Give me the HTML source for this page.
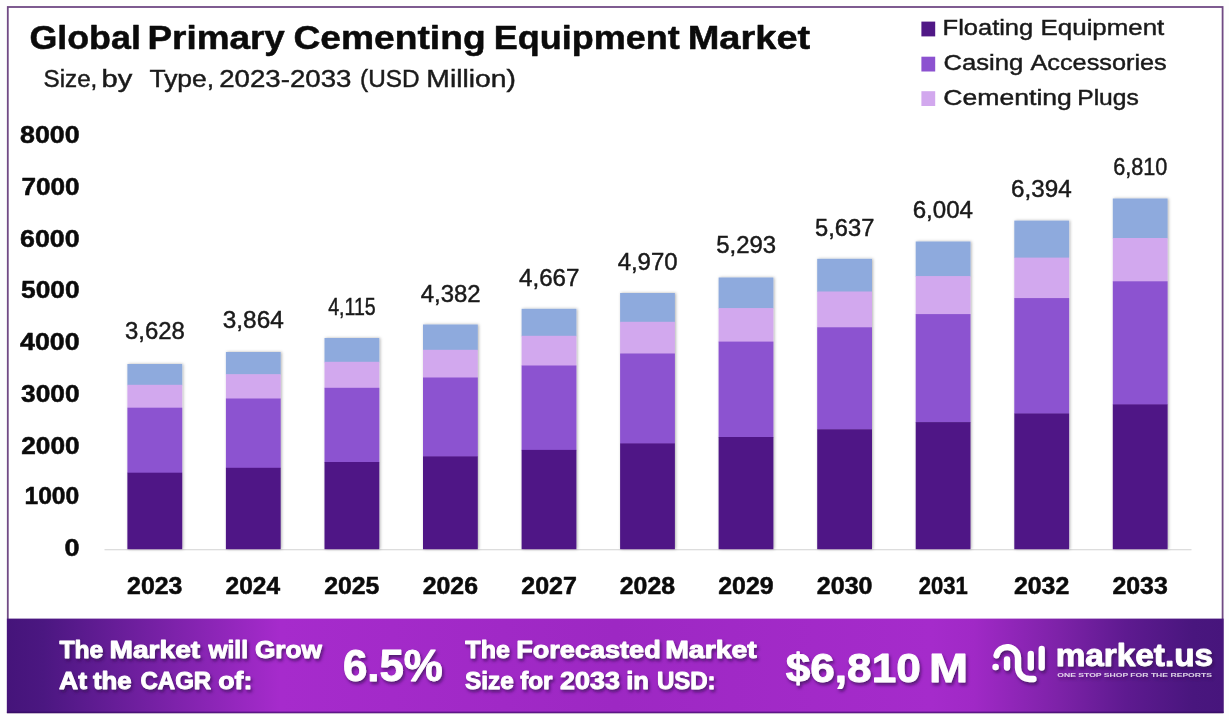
<!DOCTYPE html>
<html lang="en"><head><meta charset="utf-8"><title>Global Primary Cementing Equipment Market</title>
<style>
html,body{margin:0;padding:0;background:#fdfefd;overflow:hidden}
svg{display:block}
text{font-family:"Liberation Sans",sans-serif}
.b{font-weight:bold}
.k{stroke:#0b0b0b;stroke-width:0.5px;stroke-linejoin:round}
.r{stroke:#1a1a1a;stroke-width:0.45px}
</style></head><body>
<svg width="1229" height="720" viewBox="0 0 1229 720">
<defs>
<linearGradient id="bg" x1="0" y1="0" x2="1" y2="0">
<stop offset="0" stop-color="#45147a"/>
<stop offset="0.03" stop-color="#4b1781"/>
<stop offset="0.225" stop-color="#a62bcc"/>
<stop offset="0.50" stop-color="#9d28c3"/>
<stop offset="0.76" stop-color="#a52bcb"/>
<stop offset="0.795" stop-color="#a029c6"/>
<stop offset="0.865" stop-color="#7d22a8"/>
<stop offset="0.92" stop-color="#5e1a90"/>
<stop offset="0.975" stop-color="#49167e"/>
<stop offset="1" stop-color="#47157c"/>
</linearGradient>
<filter id="sh" x="-10%" y="-10%" width="120%" height="130%"><feDropShadow dx="1.5" dy="2.5" stdDeviation="1.6" flood-color="#30084f" flood-opacity="0.7"/></filter>
<filter id="bs" x="-10%" y="-5%" width="125%" height="110%"><feDropShadow dx="1" dy="0" stdDeviation="1.7" flood-color="#000" flood-opacity="0.3"/></filter>
</defs>
<rect x="7.8" y="7" width="1214.8" height="705.5" fill="#ffffff" stroke="#704b84" stroke-width="1.8"/>

<text class="b k" font-size="33" fill="#0b0b0b" y="48.8"><tspan x="29.43" textLength="111.44" lengthAdjust="spacingAndGlyphs">Global</tspan> <tspan x="147.44" textLength="137.47" lengthAdjust="spacingAndGlyphs">Primary</tspan> <tspan x="293.49" textLength="192.14" lengthAdjust="spacingAndGlyphs">Cementing</tspan> <tspan x="493.70" textLength="186.03" lengthAdjust="spacingAndGlyphs">Equipment</tspan> <tspan x="687.67" textLength="122.56" lengthAdjust="spacingAndGlyphs">Market</tspan></text>
<text class="r" font-size="24.2" fill="#1a1a1a" y="87.3"><tspan x="43.59" textLength="53.76" lengthAdjust="spacingAndGlyphs">Size,</tspan> <tspan x="101.63" textLength="30.72" lengthAdjust="spacingAndGlyphs">by</tspan> <tspan x="149.44" textLength="64.69" lengthAdjust="spacingAndGlyphs">Type,</tspan> <tspan x="219.26" textLength="132.11" lengthAdjust="spacingAndGlyphs">2023-2033</tspan> <tspan x="360.11" textLength="59.48" lengthAdjust="spacingAndGlyphs">(USD</tspan> <tspan x="426.34" textLength="89.57" lengthAdjust="spacingAndGlyphs">Million)</tspan></text>
<rect x="921.4" y="21.6" width="13.8" height="14.8" fill="#501886"/>
<text class="r" font-size="22.4" fill="#1a1a1a" y="35.3"><tspan x="942.63" textLength="90.58" lengthAdjust="spacingAndGlyphs">Floating</tspan> <tspan x="1040.60" textLength="123.69" lengthAdjust="spacingAndGlyphs">Equipment</tspan></text>
<rect x="921.4" y="56.7" width="13.8" height="14.8" fill="#8c52d0"/>
<text class="r" font-size="22.4" fill="#1a1a1a" y="70.1"><tspan x="943.42" textLength="79.80" lengthAdjust="spacingAndGlyphs">Casing</tspan> <tspan x="1030.42" textLength="136.35" lengthAdjust="spacingAndGlyphs">Accessories</tspan></text>
<rect x="921.4" y="91.2" width="13.8" height="14.8" fill="#d2a8ee"/>
<text class="r" font-size="22.4" fill="#1a1a1a" y="104.7"><tspan x="943.37" textLength="128.50" lengthAdjust="spacingAndGlyphs">Cementing</tspan> <tspan x="1077.19" textLength="61.66" lengthAdjust="spacingAndGlyphs">Plugs</tspan></text>
<text class="b k" font-size="23.8" fill="#0b0b0b" y="556.2"><tspan x="64.60" textLength="15.04" lengthAdjust="spacingAndGlyphs">0</tspan></text>
<text class="b k" font-size="23.8" fill="#0b0b0b" y="504.4"><tspan x="24.41" textLength="54.94" lengthAdjust="spacingAndGlyphs">1000</tspan></text>
<text class="b k" font-size="23.8" fill="#0b0b0b" y="454.2"><tspan x="21.23" textLength="58.38" lengthAdjust="spacingAndGlyphs">2000</tspan></text>
<text class="b k" font-size="23.8" fill="#0b0b0b" y="402.0"><tspan x="21.14" textLength="58.48" lengthAdjust="spacingAndGlyphs">3000</tspan></text>
<text class="b k" font-size="23.8" fill="#0b0b0b" y="350.4"><tspan x="20.05" textLength="59.59" lengthAdjust="spacingAndGlyphs">4000</tspan></text>
<text class="b k" font-size="23.8" fill="#0b0b0b" y="298.3"><tspan x="21.14" textLength="58.48" lengthAdjust="spacingAndGlyphs">5000</tspan></text>
<text class="b k" font-size="23.8" fill="#0b0b0b" y="246.6"><tspan x="20.01" textLength="59.62" lengthAdjust="spacingAndGlyphs">6000</tspan></text>
<text class="b k" font-size="23.8" fill="#0b0b0b" y="194.6"><tspan x="21.43" textLength="58.18" lengthAdjust="spacingAndGlyphs">7000</tspan></text>
<text class="b k" font-size="23.8" fill="#0b0b0b" y="142.9"><tspan x="20.01" textLength="59.62" lengthAdjust="spacingAndGlyphs">8000</tspan></text>
<rect x="104.5" y="549.1" width="1087" height="1.2" fill="#dadada"/>
<g filter="url(#bs)">
<rect x="127.4" y="364.0" width="54.8" height="21.3" fill="#8eaadd"/>
<rect x="127.4" y="384.8" width="54.8" height="23.4" fill="#d2a8ee"/>
<rect x="127.4" y="407.7" width="54.8" height="65.5" fill="#8c52d0"/>
<rect x="127.4" y="472.7" width="54.8" height="76.5" fill="#501886"/>
</g>
<text class="r" font-size="23" fill="#1a1a1a" y="339.3"><tspan x="124.97" textLength="59.88" lengthAdjust="spacingAndGlyphs">3,628</tspan></text>
<text class="b k" font-size="23.3" fill="#0b0b0b" y="594.0"><tspan x="127.07" textLength="55.30" lengthAdjust="spacingAndGlyphs">2023</tspan></text>
<g filter="url(#bs)">
<rect x="225.9" y="352.0" width="54.8" height="22.7" fill="#8eaadd"/>
<rect x="225.9" y="374.2" width="54.8" height="24.9" fill="#d2a8ee"/>
<rect x="225.9" y="398.5" width="54.8" height="69.7" fill="#8c52d0"/>
<rect x="225.9" y="467.8" width="54.8" height="81.4" fill="#501886"/>
</g>
<text class="r" font-size="23" fill="#1a1a1a" y="327.9"><tspan x="222.80" textLength="60.93" lengthAdjust="spacingAndGlyphs">3,864</tspan></text>
<text class="b k" font-size="23.3" fill="#0b0b0b" y="594.0"><tspan x="225.62" textLength="54.51" lengthAdjust="spacingAndGlyphs">2024</tspan></text>
<g filter="url(#bs)">
<rect x="324.5" y="338.0" width="54.8" height="24.3" fill="#8eaadd"/>
<rect x="324.5" y="361.8" width="54.8" height="26.6" fill="#d2a8ee"/>
<rect x="324.5" y="387.8" width="54.8" height="74.6" fill="#8c52d0"/>
<rect x="324.5" y="462.0" width="54.8" height="87.2" fill="#501886"/>
</g>
<text class="r" font-size="23" fill="#1a1a1a" y="315.3"><tspan x="328.21" textLength="47.56" lengthAdjust="spacingAndGlyphs">4,115</tspan></text>
<text class="b k" font-size="23.3" fill="#0b0b0b" y="594.0"><tspan x="324.15" textLength="55.30" lengthAdjust="spacingAndGlyphs">2025</tspan></text>
<g filter="url(#bs)">
<rect x="423.0" y="324.5" width="54.8" height="25.8" fill="#8eaadd"/>
<rect x="423.0" y="349.8" width="54.8" height="28.3" fill="#d2a8ee"/>
<rect x="423.0" y="377.5" width="54.8" height="79.4" fill="#8c52d0"/>
<rect x="423.0" y="456.4" width="54.8" height="92.8" fill="#501886"/>
</g>
<text class="r" font-size="23" fill="#1a1a1a" y="301.8"><tspan x="420.77" textLength="59.90" lengthAdjust="spacingAndGlyphs">4,382</tspan></text>
<text class="b k" font-size="23.3" fill="#0b0b0b" y="594.0"><tspan x="422.69" textLength="55.30" lengthAdjust="spacingAndGlyphs">2026</tspan></text>
<g filter="url(#bs)">
<rect x="521.6" y="308.8" width="54.8" height="27.5" fill="#8eaadd"/>
<rect x="521.6" y="335.8" width="54.8" height="30.2" fill="#d2a8ee"/>
<rect x="521.6" y="365.5" width="54.8" height="84.9" fill="#8c52d0"/>
<rect x="521.6" y="449.9" width="54.8" height="99.3" fill="#501886"/>
</g>
<text class="r" font-size="23" fill="#1a1a1a" y="285.8"><tspan x="519.05" textLength="60.42" lengthAdjust="spacingAndGlyphs">4,667</tspan></text>
<text class="b k" font-size="23.3" fill="#0b0b0b" y="594.0"><tspan x="521.23" textLength="55.70" lengthAdjust="spacingAndGlyphs">2027</tspan></text>
<g filter="url(#bs)">
<rect x="620.1" y="293.0" width="54.8" height="29.3" fill="#8eaadd"/>
<rect x="620.1" y="321.8" width="54.8" height="32.1" fill="#d2a8ee"/>
<rect x="620.1" y="353.5" width="54.8" height="90.4" fill="#8c52d0"/>
<rect x="620.1" y="443.4" width="54.8" height="105.8" fill="#501886"/>
</g>
<text class="r" font-size="23" fill="#1a1a1a" y="270.2"><tspan x="617.65" textLength="59.93" lengthAdjust="spacingAndGlyphs">4,970</tspan></text>
<text class="b k" font-size="23.3" fill="#0b0b0b" y="594.0"><tspan x="619.77" textLength="55.30" lengthAdjust="spacingAndGlyphs">2028</tspan></text>
<g filter="url(#bs)">
<rect x="718.6" y="277.5" width="54.8" height="31.1" fill="#8eaadd"/>
<rect x="718.6" y="308.1" width="54.8" height="34.1" fill="#d2a8ee"/>
<rect x="718.6" y="341.6" width="54.8" height="95.9" fill="#8c52d0"/>
<rect x="718.6" y="437.0" width="54.8" height="112.2" fill="#501886"/>
</g>
<text class="r" font-size="23" fill="#1a1a1a" y="253.3"><tspan x="716.21" textLength="59.88" lengthAdjust="spacingAndGlyphs">5,293</tspan></text>
<text class="b k" font-size="23.3" fill="#0b0b0b" y="594.0"><tspan x="718.31" textLength="55.30" lengthAdjust="spacingAndGlyphs">2029</tspan></text>
<g filter="url(#bs)">
<rect x="817.2" y="258.8" width="54.8" height="33.2" fill="#8eaadd"/>
<rect x="817.2" y="291.5" width="54.8" height="36.4" fill="#d2a8ee"/>
<rect x="817.2" y="327.3" width="54.8" height="102.4" fill="#8c52d0"/>
<rect x="817.2" y="429.3" width="54.8" height="119.9" fill="#501886"/>
</g>
<text class="r" font-size="23" fill="#1a1a1a" y="236.0"><tspan x="815.06" textLength="59.26" lengthAdjust="spacingAndGlyphs">5,637</tspan></text>
<text class="b k" font-size="23.3" fill="#0b0b0b" y="594.0"><tspan x="816.85" textLength="55.70" lengthAdjust="spacingAndGlyphs">2030</tspan></text>
<g filter="url(#bs)">
<rect x="915.7" y="241.5" width="54.8" height="35.1" fill="#8eaadd"/>
<rect x="915.7" y="276.1" width="54.8" height="38.5" fill="#d2a8ee"/>
<rect x="915.7" y="314.1" width="54.8" height="108.5" fill="#8c52d0"/>
<rect x="915.7" y="422.1" width="54.8" height="127.1" fill="#501886"/>
</g>
<text class="r" font-size="23" fill="#1a1a1a" y="217.6"><tspan x="912.71" textLength="60.29" lengthAdjust="spacingAndGlyphs">6,004</tspan></text>
<text class="b k" font-size="23.3" fill="#0b0b0b" y="594.0"><tspan x="918.86" textLength="48.94" lengthAdjust="spacingAndGlyphs">2031</tspan></text>
<g filter="url(#bs)">
<rect x="1014.3" y="220.6" width="54.8" height="37.5" fill="#8eaadd"/>
<rect x="1014.3" y="257.6" width="54.8" height="41.1" fill="#d2a8ee"/>
<rect x="1014.3" y="298.1" width="54.8" height="115.8" fill="#8c52d0"/>
<rect x="1014.3" y="413.5" width="54.8" height="135.7" fill="#501886"/>
</g>
<text class="r" font-size="23" fill="#1a1a1a" y="196.6"><tspan x="1011.09" textLength="60.60" lengthAdjust="spacingAndGlyphs">6,394</tspan></text>
<text class="b k" font-size="23.3" fill="#0b0b0b" y="594.0"><tspan x="1013.93" textLength="55.30" lengthAdjust="spacingAndGlyphs">2032</tspan></text>
<g filter="url(#bs)">
<rect x="1112.8" y="198.5" width="54.8" height="40.0" fill="#8eaadd"/>
<rect x="1112.8" y="238.0" width="54.8" height="43.8" fill="#d2a8ee"/>
<rect x="1112.8" y="281.3" width="54.8" height="123.6" fill="#8c52d0"/>
<rect x="1112.8" y="404.4" width="54.8" height="144.8" fill="#501886"/>
</g>
<text class="r" font-size="23" fill="#1a1a1a" y="175.4"><tspan x="1113.20" textLength="54.22" lengthAdjust="spacingAndGlyphs">6,810</tspan></text>
<text class="b k" font-size="23.3" fill="#0b0b0b" y="594.0"><tspan x="1112.47" textLength="55.30" lengthAdjust="spacingAndGlyphs">2033</tspan></text>
<rect x="6.9" y="618.6" width="1216.7" height="94.4" fill="url(#bg)"/>
<rect x="6.9" y="711.6" width="1216.7" height="1.4" fill="#2e0a5c" opacity="0.6"/>
<g fill="#ffffff" stroke="#ffffff" stroke-width="0.9" stroke-linejoin="round" class="b" filter="url(#sh)">
<text font-size="23.5" y="657.9"><tspan x="59.45" textLength="43.81" lengthAdjust="spacingAndGlyphs">The</tspan> <tspan x="109.59" textLength="90.59" lengthAdjust="spacingAndGlyphs">Market</tspan> <tspan x="208.43" textLength="39.57" lengthAdjust="spacingAndGlyphs">will</tspan> <tspan x="254.93" textLength="67.03" lengthAdjust="spacingAndGlyphs">Grow</tspan></text>
<text font-size="23.5" y="689.1"><tspan x="59.04" textLength="27.94" lengthAdjust="spacingAndGlyphs">At</tspan> <tspan x="92.95" textLength="38.64" lengthAdjust="spacingAndGlyphs">the</tspan> <tspan x="140.50" textLength="70.71" lengthAdjust="spacingAndGlyphs">CAGR</tspan> <tspan x="218.32" textLength="34.05" lengthAdjust="spacingAndGlyphs">of:</tspan></text>
<text font-size="45" y="681.3"><tspan x="342.88" textLength="99.89" lengthAdjust="spacingAndGlyphs">6.5%</tspan></text>
<text font-size="23.5" y="657.9"><tspan x="465.35" textLength="44.52" lengthAdjust="spacingAndGlyphs">The</tspan> <tspan x="516.26" textLength="144.42" lengthAdjust="spacingAndGlyphs">Forecasted</tspan> <tspan x="665.17" textLength="91.62" lengthAdjust="spacingAndGlyphs">Market</tspan></text>
<text font-size="23.5" y="689.1"><tspan x="464.97" textLength="48.79" lengthAdjust="spacingAndGlyphs">Size</tspan> <tspan x="520.17" textLength="32.42" lengthAdjust="spacingAndGlyphs">for</tspan> <tspan x="560.11" textLength="59.71" lengthAdjust="spacingAndGlyphs">2033</tspan> <tspan x="626.25" textLength="22.74" lengthAdjust="spacingAndGlyphs">in</tspan> <tspan x="656.92" textLength="58.72" lengthAdjust="spacingAndGlyphs">USD:</tspan></text>
<text font-size="41" y="682"><tspan x="785.75" textLength="134.99" lengthAdjust="spacingAndGlyphs">$6,810</tspan> <tspan x="928.92" textLength="39.06" lengthAdjust="spacingAndGlyphs">M</tspan></text>
<text font-size="30.5" y="666.4"><tspan x="1055.67" textLength="157.43" lengthAdjust="spacingAndGlyphs">market.us</tspan></text>
<text x="1057.3" y="676.8" font-size="6" stroke="none" fill-opacity="0.78" textLength="154.7" lengthAdjust="spacingAndGlyphs">ONE STOP SHOP FOR THE REPORTS</text>
<g fill="none" stroke="#ffffff" stroke-width="6.3" stroke-linecap="round">
<path d="M996.5 655.4 A10.9 10.9 0 0 1 1018 657.8 V667.5 A11.5 11.5 0 0 0 1029.5 679 H1033.5"/>
<path d="M1007 659.5 V667.5"/>
<path d="M1030.8 654 V667.5"/>
<path d="M1041.7 649 V667.5"/>
</g>
<circle cx="995.6" cy="667" r="3.3" stroke="none"/>
</g>
</svg></body></html>
